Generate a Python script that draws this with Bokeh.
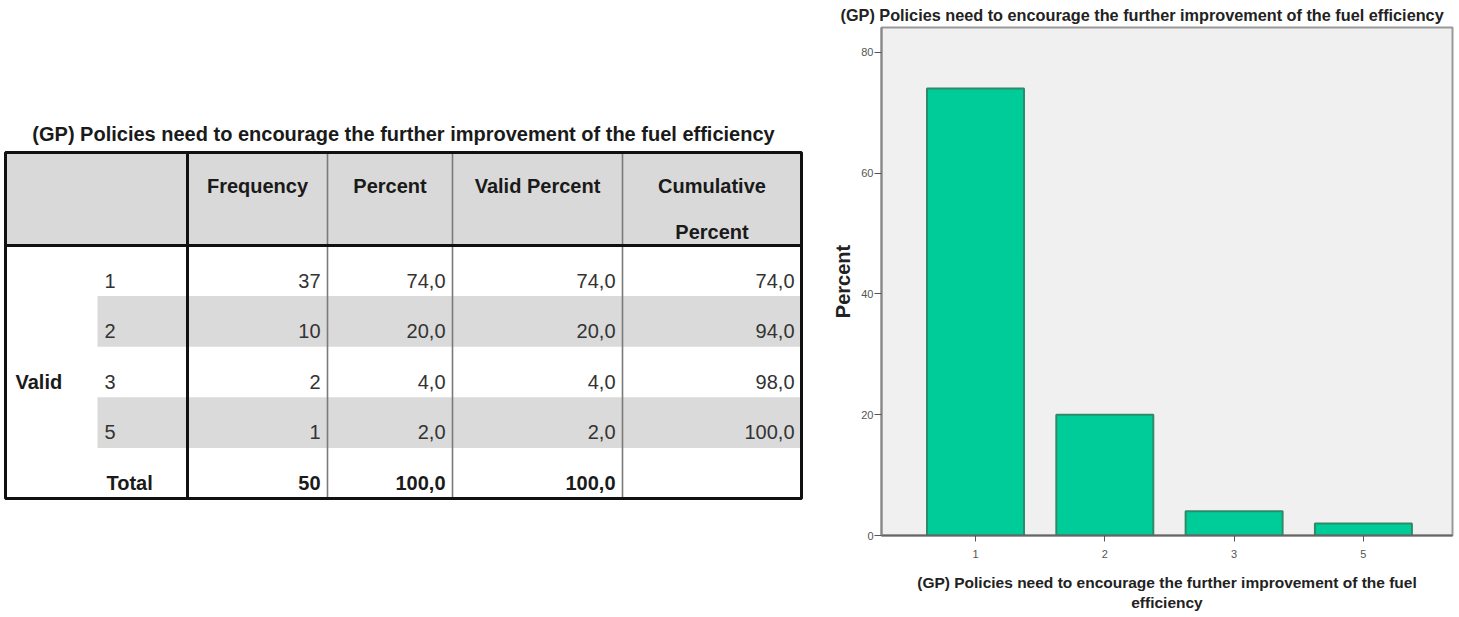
from bokeh.plotting import figure
from bokeh.layouts import row
from bokeh.models import ColumnDataSource, Range1d, FixedTicker
from bokeh.core.properties import value
from bokeh.embed import file_html
from bokeh.resources import INLINE

# ---------------- data ----------------
TITLE = "(GP) Policies need to encourage the further improvement of the fuel efficiency"
categories = ["1", "2", "3", "5"]
frequency = [37, 10, 2, 1]
percent = [74.0, 20.0, 4.0, 2.0]
valid_percent = [74.0, 20.0, 4.0, 2.0]
cumulative_percent = [74.0, 94.0, 98.0, 100.0]
total_frequency = 50
total_percent = 100.0
total_valid_percent = 100.0
headers = ["Frequency", "Percent", "Valid Percent", "Cumulative\nPercent"]
group_label = "Valid"
total_label = "Total"
y_ticks = [0, 20, 40, 60, 80]
x_axis_title = "(GP) Policies need to encourage the further improvement of the fuel\nefficiency"
y_axis_title = "Percent"

FONT = "Liberation Sans"


def fmt(v):
    return f"{v:.1f}".replace(".", ",")


# common vertical layout (both figures share the same frame band)
H = 615
FRAME_TOP, FRAME_BOTTOM = 27, 535
B_TOP, B_BOTTOM = FRAME_TOP, H - FRAME_BOTTOM

# ---------------- table figure ----------------
W1 = 820
t = figure(width=W1, height=H, x_range=Range1d(0, W1),
           y_range=Range1d(FRAME_BOTTOM, FRAME_TOP),
           output_backend="svg", toolbar_location=None,
           x_axis_location=None, y_axis_location=None,
           min_border_left=0, min_border_right=0,
           min_border_top=B_TOP, min_border_bottom=B_BOTTOM)
t.grid.visible = False
t.outline_line_color = None

TL, TR = 5, 801
TT, HB, TB = 152, 245, 498
SUB = 97          # start of the category sub-column
THICK = 187       # thick separator
thin_cols = [327, 452, 622]
col_l = [THICK, 327, 452, 622]
col_r = [327, 452, 622, TR]
n_rows = len(categories) + 1
row_h = (TB - HB) / n_rows
row_y = [HB + row_h * i + 35 for i in range(n_rows)]

# header background
t.quad(left=[TL], right=[TR], top=[TT], bottom=[HB], fill_color="#d9d9d9", line_color=None)
# stripes
s_idx = [i for i in range(len(categories)) if i % 2 == 1]
t.quad(left=[SUB] * len(s_idx), right=[TR] * len(s_idx),
       top=[HB + row_h * i for i in s_idx], bottom=[HB + row_h * (i + 1) for i in s_idx],
       fill_color="#dadada", line_color=None)
# thin column lines
t.segment(x0=thin_cols, x1=thin_cols, y0=[TT] * 3, y1=[TB] * 3, line_color="#7a7a7a", line_width=1.6)
# thick lines
t.segment(x0=[THICK, TL], x1=[THICK, TR], y0=[TT, HB], y1=[TB, HB], line_color="#111111", line_width=3)
t.quad(left=[TL], right=[TR], top=[TT], bottom=[TB], fill_color=None, line_color="#111111", line_width=3)

# table title
t.text(x=[(TL + TR) / 2], y=[133], text=[TITLE], text_align="center", text_baseline="middle",
       text_font=value(FONT), text_font_size="20px", text_font_style="bold", text_color="#1a1a1a")

# headers
hx, hy, ht = [], [], []
for j, h in enumerate(headers):
    for k, line in enumerate(h.split("\n")):
        hx.append((col_l[j] + col_r[j]) / 2)
        hy.append(185 + 46 * k)
        ht.append(line)
t.text(x=hx, y=hy, text=ht, text_align="center", text_baseline="middle",
       text_font=value(FONT), text_font_size="20px", text_font_style="bold", text_color="#1a1a1a")

# body values
vx, vy, vt = [], [], []
cols = [[str(v) for v in frequency], [fmt(v) for v in percent],
        [fmt(v) for v in valid_percent], [fmt(v) for v in cumulative_percent]]
for j, colvals in enumerate(cols):
    for i, s in enumerate(colvals):
        vx.append(col_r[j] - 7)
        vy.append(row_y[i])
        vt.append(s)
t.text(x=vx, y=vy, text=vt, text_align="right", text_baseline="middle",
       text_font=value(FONT), text_font_size="20px", text_color="#333333")
# category labels
t.text(x=[SUB + 7] * len(categories), y=row_y[:len(categories)], text=categories,
       text_align="left", text_baseline="middle",
       text_font=value(FONT), text_font_size="20px", text_color="#333333")
# totals (bold)
tot = [str(total_frequency), fmt(total_percent), fmt(total_valid_percent)]
t.text(x=[col_r[j] - 7 for j in range(3)], y=[row_y[-1]] * 3, text=tot,
       text_align="right", text_baseline="middle",
       text_font=value(FONT), text_font_size="20px", text_font_style="bold", text_color="#1a1a1a")
t.text(x=[SUB + 9], y=[row_y[-1]], text=[total_label], text_align="left", text_baseline="middle",
       text_font=value(FONT), text_font_size="20px", text_font_style="bold", text_color="#1a1a1a")
t.text(x=[TL + 10], y=[(row_y[0] + row_y[-1]) / 2], text=[group_label], text_align="left",
       text_baseline="middle", text_font=value(FONT), text_font_size="20px",
       text_font_style="bold", text_color="#1a1a1a")

# ---------------- bar chart ----------------
W2 = 638
FRAME_LEFT, FRAME_RIGHT = 881, 1452
xs = list(range(len(categories)))
src = ColumnDataSource(dict(x=xs, top=percent, cat=categories))
p = figure(width=W2, height=H, x_range=Range1d(-0.727, 3.689), y_range=Range1d(0, 84.1),
           output_backend="svg", toolbar_location=None,
           min_border_left=FRAME_LEFT - W1, min_border_right=W1 + W2 - FRAME_RIGHT,
           min_border_top=B_TOP, min_border_bottom=B_BOTTOM)
p.vbar(x="x", top="top", width=0.75, source=src, fill_color="#00cc99",
       line_color="#2f8a68", line_width=2)
p.background_fill_color = "#f0f0f0"
p.border_fill_color = "white"
p.outline_line_color = "#999999"
p.outline_line_width = 2
p.grid.visible = False

p.title.text = TITLE
p.title.align = "left"
p.title.offset = -41
p.title.standoff = 7
p.title.text_font = FONT
p.title.text_font_size = "16.25px"
p.title.text_font_style = "bold"
p.title.text_color = "#222222"

p.yaxis.ticker = FixedTicker(ticks=y_ticks)
p.xaxis.ticker = FixedTicker(ticks=xs)
p.xaxis.major_label_overrides = {i: c for i, c in zip(xs, categories)}
for ax in (p.xaxis, p.yaxis):
    ax.major_label_text_font = FONT
    ax.major_label_text_font_size = "11px"
    ax.major_label_text_color = "#555555"
    ax.minor_tick_line_color = None
    ax.major_tick_in = 0
    ax.axis_label_text_font = FONT
    ax.axis_label_text_font_style = "bold"
    ax.axis_label_text_color = "#222222"
p.yaxis.major_tick_out = 7
p.yaxis.major_label_standoff = 1
p.yaxis.axis_line_color = "#888888"
p.yaxis.axis_line_width = 2
p.yaxis.major_tick_line_color = "#555555"
p.yaxis.axis_label = y_axis_title
p.yaxis.axis_label_text_font_size = "20px"
p.yaxis.axis_label_standoff = 4

p.xaxis.major_tick_out = 6
p.xaxis.major_label_standoff = 8
p.xaxis.axis_line_color = "#666666"
p.xaxis.axis_line_width = 2
p.xaxis.major_tick_line_color = "#555555"
p.xaxis.axis_label = x_axis_title
p.xaxis.axis_label_text_font_size = "15.5px"
p.xaxis.axis_label_standoff = 13

layout = row(t, p)
open("out.html", "w").write(file_html(layout, INLINE))
